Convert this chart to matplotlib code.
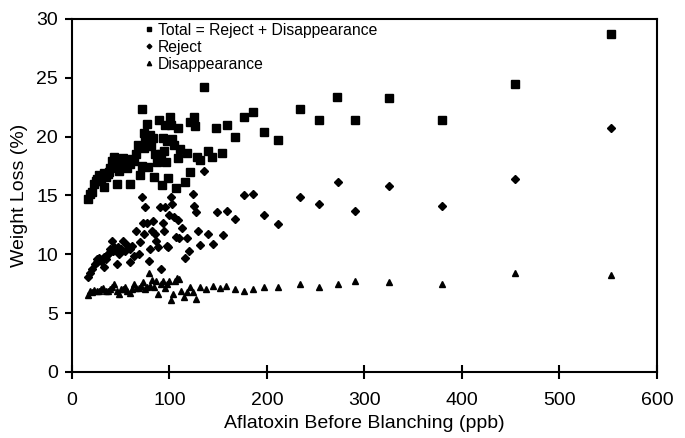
import matplotlib
matplotlib.use("Agg")
import matplotlib.pyplot as plt

plt.rcParams['font.family'] = ['Liberation Sans', 'DejaVu Sans']

total_x = [16.6, 18.9, 21, 22.5, 24.7, 27.9, 30, 32.4, 34.6, 36.9, 39, 41.4, 43.6, 45.9, 48, 50.4,
           52.6, 54.9, 57, 59.4, 60, 61.6, 63.9, 66, 67.5, 69.7, 71.5, 72, 73.8, 75, 73.8, 76.5,
           78.3, 79.6, 81, 83, 84, 85.5, 87.3, 89.5, 91, 92, 93, 94.5, 95.8, 96.7, 97.6, 99,
           100.3, 101.2, 103, 104.4, 106.6, 108.4, 108.9, 111, 116, 117.8, 121, 121.4, 125,
           126.4, 128.6, 131, 135, 140, 144, 148, 154, 159, 167, 177, 186, 197, 211, 234, 253,
           272, 290, 325, 380, 454, 553,
           26, 29, 33, 38, 42, 47, 53]
total_y = [14.7, 15.1, 15.3, 16.0, 16.2, 16.7, 16.4, 15.7, 16.6, 16.8, 17.3, 17.9, 18.3, 16.0, 17.1, 17.5,
           18.2, 17.9, 17.3, 17.7, 16.0, 18.1, 17.9, 18.5, 19.3, 16.7, 22.3, 17.5, 19.0, 19.7, 20.3, 21.1,
           17.4, 20.1, 19.2, 19.9, 16.6, 18.5, 17.8, 21.4, 18.5, 15.9, 19.9, 18.8, 21.0, 17.8, 19.6, 16.5,
           21.7, 21.0, 19.8, 19.3, 15.6, 20.7, 18.2, 18.9, 16.1, 18.6, 17.0, 21.2, 21.7,
           20.9, 18.3, 18.0, 24.2, 18.8, 18.3, 20.7, 18.6, 21.0, 20.0, 21.7, 22.1, 20.4, 19.7, 22.3, 21.4,
           23.4, 21.4, 23.3, 21.4, 24.5, 28.7,
           16.4, 16.2, 16.9, 17.0, 17.4, 17.6, 17.8]

reject_x = [16.6, 18.9, 21, 23.4, 25.6, 27.9, 30, 32.4, 34.6, 36.9, 39, 41.4, 43.6, 45.9, 48, 50.4,
            52.6, 54.9, 57, 59.4, 60, 61.6, 63.9, 66, 68.4, 69.7, 71.5, 72.9, 74.2, 75, 77.4, 78.7,
            80.5, 81.9, 83.2, 85, 86.4, 88.6, 90, 91.8, 93, 94, 95.8, 97.6, 99, 99.9, 102, 103,
            104.4, 106.6, 108.9, 110, 112.9, 115.6, 117.8, 120, 123.7, 125, 126.8, 129, 131.3, 135,
            140, 144.8, 149, 154.7, 159, 167, 177, 186, 197, 211, 234, 253, 272.6, 290, 325, 380,
            454, 553,
            26, 29, 33, 38, 42, 47]
reject_y = [8.1, 8.4, 8.7, 9.15, 9.6, 9.7, 9.4, 8.9, 9.6, 10.0, 10.4, 11.1, 10.6, 9.15, 10.0, 10.4,
            11.1, 10.3, 10.8, 10.4, 9.3, 10.7, 9.85, 12.0, 10.0, 11.0, 14.9, 12.65, 11.7, 14.05, 12.65, 9.4,
            10.4, 12.0, 12.8, 11.7, 11.1, 10.6, 14.05, 8.7, 12.65, 12.0, 14.05, 10.7, 10.6, 13.35, 14.9, 14.3,
            13.2, 11.5, 12.9, 11.4, 12.2, 9.7, 11.4, 10.3, 15.1, 14.1, 13.6, 12.0, 10.8, 17.1,
            11.7, 10.9, 13.6, 11.6, 13.7, 13.0, 15.0, 15.1, 13.35, 12.6, 14.9, 14.3, 16.1, 13.7, 15.8, 14.1,
            16.4, 20.7,
            9.3, 9.5, 9.8, 10.1, 10.3, 10.6]

disap_x = [16.6, 18.9, 21, 25.6, 30, 34.6, 39, 43.6, 45.9, 48, 50.4, 54.9, 59.4, 61.6, 63.9, 68.4,
           70.6, 72.9, 75, 78.7, 80.5, 81.9, 84, 86.4, 88.6, 91, 93, 95, 97.6, 99.9, 102, 103.5,
           105.7, 108, 110, 112, 114.7, 117.8, 121, 124.6, 127.3, 131.3, 138, 144.8, 151.6, 158,
           167, 177, 186, 197, 211, 234, 253, 272.6, 290, 325, 380, 454, 553,
           23, 28, 32, 37, 41, 52, 57, 66, 77]
disap_y = [6.5, 6.9, 6.8, 6.9, 7.0, 6.9, 7.0, 7.5, 6.9, 6.6, 7.05, 7.25, 6.7, 7.05, 7.5, 7.1,
           7.3, 7.6, 7.0, 8.4, 7.3, 7.8, 7.2, 7.7, 6.6, 7.5, 7.75, 7.1, 7.5, 7.75, 6.1, 6.6,
           7.75, 8.0, 7.9, 6.9, 6.35, 6.8, 7.2, 6.8, 6.2, 7.25, 7.05, 7.3, 7.1, 7.3,
           7.0, 6.9, 7.05, 7.2, 7.2, 7.5, 7.2, 7.5, 7.75, 7.6, 7.5, 8.4, 8.25,
           6.95, 6.85, 7.1, 6.9, 7.2, 7.0, 6.9, 7.1, 7.2]

labels = ["Total = Reject + Disappearance", "Reject", "Disappearance"]
x_ticks = [0, 100, 200, 300, 400, 500, 600]
y_ticks = [0, 5, 10, 15, 20, 25, 30]

fig = plt.figure(figsize=(6.85, 4.38), dpi=100)
ax = fig.add_axes([0.105, 0.151, 0.854, 0.806])

ax.plot(total_x, total_y, linestyle='none', marker='s', markersize=5.4, color='black', label=labels[0])
ax.plot(reject_x, reject_y, linestyle='none', marker='D', markersize=3.7, color='black', label=labels[1])
ax.plot(disap_x, disap_y, linestyle='none', marker='^', markersize=4.8, color='black', label=labels[2])

ax.set_xlim(0, 600)
ax.set_ylim(0, 30)
ax.set_xticks(x_ticks)
ax.set_yticks(y_ticks)
ax.tick_params(axis='x', direction='inout', length=9.5, width=1.5, labelsize=14, pad=10)
ax.tick_params(axis='y', direction='out', length=5, width=1.5, labelsize=14, pad=5)
for s in ax.spines.values():
    s.set_linewidth(1.5)

ax.set_xlabel("Aflatoxin Before Blanching (ppb)", fontsize=14, labelpad=4)
ax.set_ylabel("Weight Loss (%)", fontsize=14, labelpad=6)

leg = ax.legend(loc='upper left', bbox_to_anchor=(0.107, 1.015), frameon=False, fontsize=11.3,
                handlelength=0.6, handletextpad=0.3, labelspacing=0.12, markerscale=0.65,
                borderaxespad=0.2)

fig.savefig("out.png", dpi=100)
